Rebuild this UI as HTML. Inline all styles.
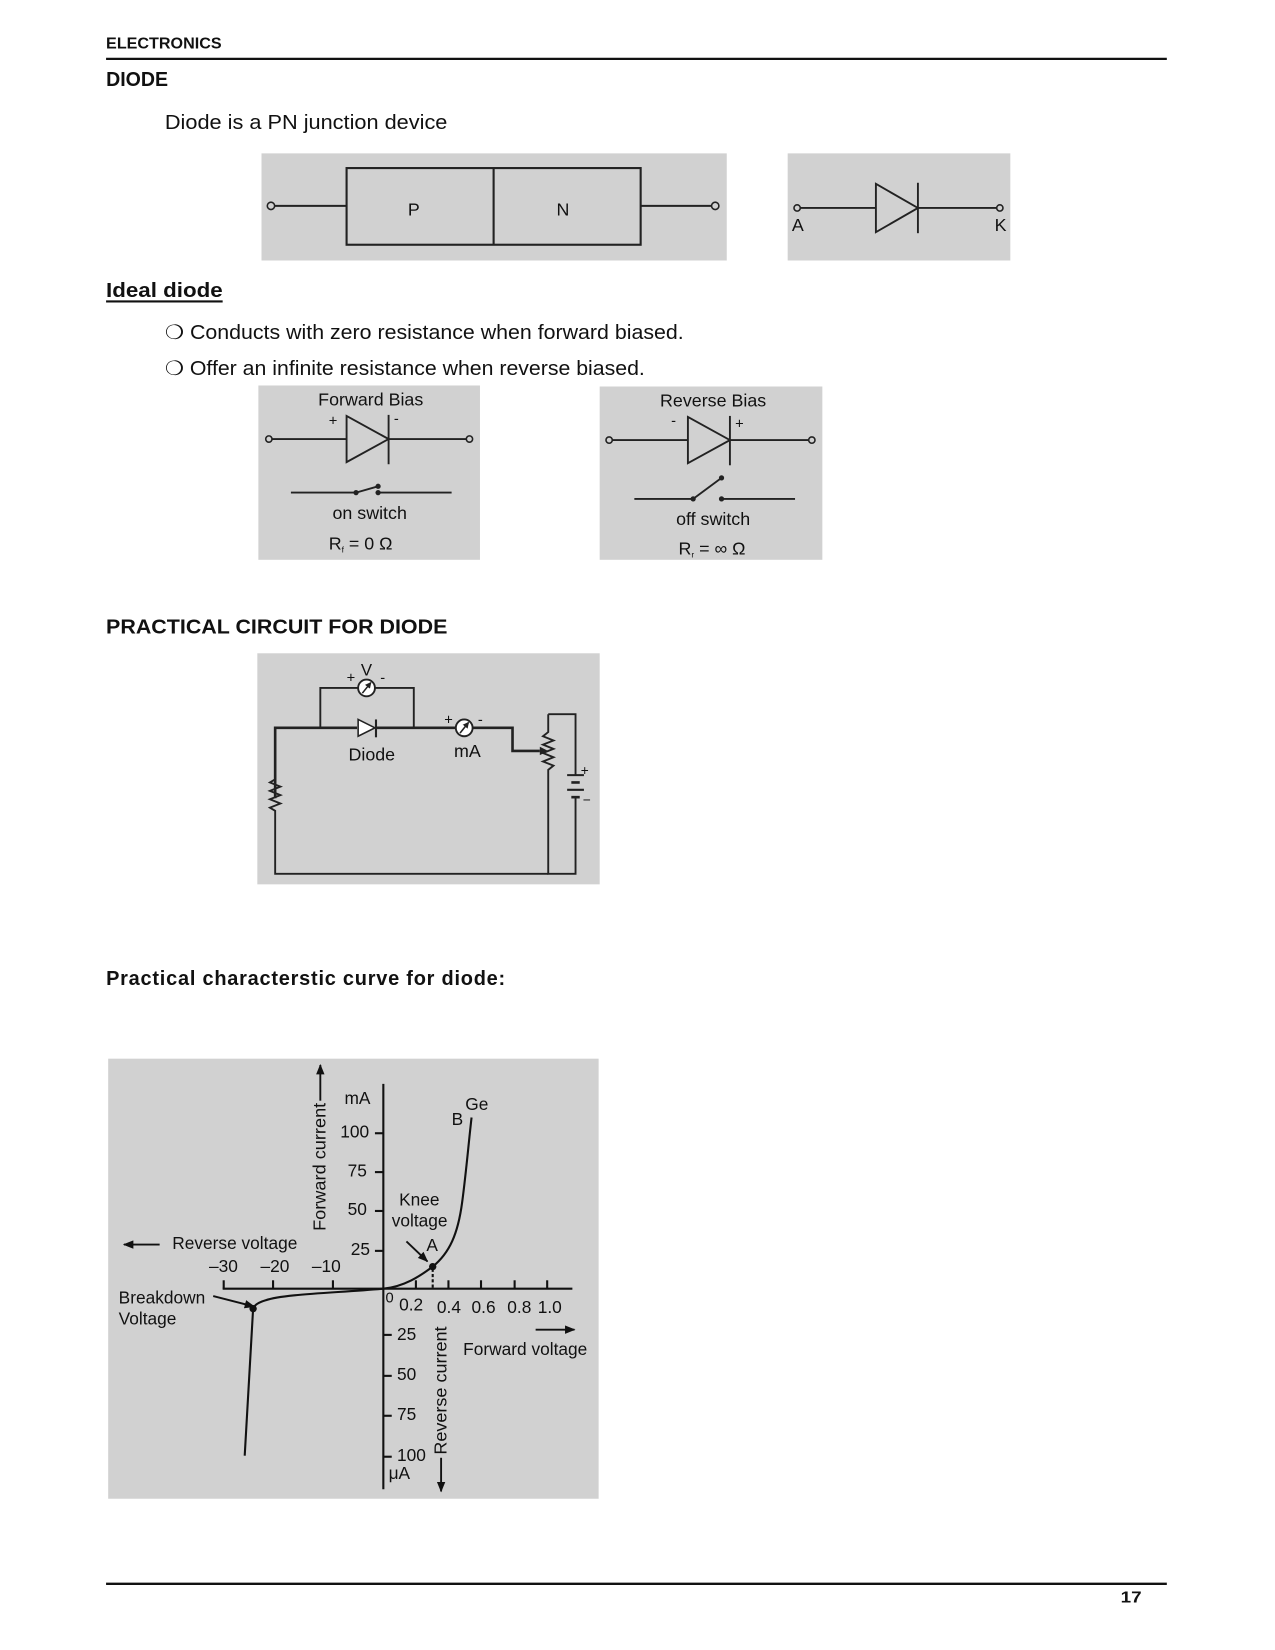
<!DOCTYPE html>
<html><head><meta charset="utf-8"><style>
html,body{margin:0;padding:0;background:#fff;}
svg{display:block;}
text{font-family:"Liberation Sans",Arial,sans-serif;fill:#111;}
</style></head><body>
<svg width="1275" height="1650" viewBox="0 0 1214 1571" xmlns="http://www.w3.org/2000/svg">
<defs>
<marker id="ah" markerWidth="10" markerHeight="8" refX="9" refY="4" orient="auto" markerUnits="userSpaceOnUse"><path d="M0,0 L10,4 L0,8 z" fill="#111"/></marker>
<marker id="sh" markerWidth="6" markerHeight="6" refX="5" refY="3" orient="auto" markerUnits="userSpaceOnUse"><path d="M0,0 L6,3 L0,6 z" fill="#222"/></marker>
</defs>
<!-- header -->
<text x="101" y="46" font-size="15" font-weight="bold" textLength="110" lengthAdjust="spacingAndGlyphs">ELECTRONICS</text>
<line x1="101" y1="56" x2="1111" y2="56" stroke="#111" stroke-width="2.2"/>
<text x="101" y="82" font-size="19" font-weight="bold" textLength="59" lengthAdjust="spacingAndGlyphs">DIODE</text>
<text x="157" y="123" font-size="19" textLength="269" lengthAdjust="spacingAndGlyphs">Diode is a PN junction device</text>

<!-- PN block -->
<rect x="249" y="146" width="443" height="102" fill="#d1d1d1"/>
<rect x="330" y="160" width="280" height="73" fill="none" stroke="#222" stroke-width="2"/>
<line x1="470" y1="160" x2="470" y2="233" stroke="#222" stroke-width="2"/>
<line x1="261" y1="196" x2="330" y2="196" stroke="#222" stroke-width="2"/>
<line x1="610" y1="196" x2="678" y2="196" stroke="#222" stroke-width="2"/>
<circle cx="258" cy="196" r="3.5" fill="#d1d1d1" stroke="#222" stroke-width="1.5"/>
<circle cx="681" cy="196" r="3.5" fill="#d1d1d1" stroke="#222" stroke-width="1.5"/>
<text x="394" y="205" font-size="17" text-anchor="middle">P</text>
<text x="536" y="205" font-size="17" text-anchor="middle">N</text>

<!-- diode symbol -->
<rect x="750" y="146" width="212" height="102" fill="#d1d1d1"/>
<line x1="762" y1="198" x2="834" y2="198" stroke="#222" stroke-width="1.8"/>
<line x1="874" y1="198" x2="949" y2="198" stroke="#222" stroke-width="1.8"/>
<path d="M834,175 L874,198 L834,221 z" fill="none" stroke="#222" stroke-width="1.8"/>
<line x1="874" y1="174" x2="874" y2="222" stroke="#222" stroke-width="1.8"/>
<circle cx="759" cy="198" r="3" fill="#d1d1d1" stroke="#222" stroke-width="1.5"/>
<circle cx="952" cy="198" r="3" fill="#d1d1d1" stroke="#222" stroke-width="1.5"/>
<text x="754" y="220" font-size="17">A</text>
<text x="947" y="220" font-size="17">K</text>

<!-- ideal diode -->
<text x="101" y="283" font-size="19" font-weight="bold" textLength="111" lengthAdjust="spacingAndGlyphs">Ideal  diode</text>
<line x1="101" y1="287" x2="212" y2="287" stroke="#111" stroke-width="2"/>
<text x="157" y="323" font-size="19" textLength="494" lengthAdjust="spacingAndGlyphs">❍ Conducts with zero resistance when forward biased.</text>
<text x="157" y="357" font-size="19" textLength="457" lengthAdjust="spacingAndGlyphs">❍ Offer an infinite resistance when reverse biased.</text>

<!-- forward bias -->
<rect x="246" y="367" width="211" height="166" fill="#d1d1d1"/>
<text x="353" y="386" font-size="17" text-anchor="middle">Forward Bias</text>
<text x="313" y="405" font-size="14">+</text>
<text x="375" y="403" font-size="14">-</text>
<line x1="259" y1="418" x2="330" y2="418" stroke="#222" stroke-width="1.8"/>
<line x1="370" y1="418" x2="444" y2="418" stroke="#222" stroke-width="1.8"/>
<path d="M330,396 L370,418 L330,440 z" fill="none" stroke="#222" stroke-width="1.8"/>
<line x1="370" y1="395" x2="370" y2="442" stroke="#222" stroke-width="1.8"/>
<circle cx="256" cy="418" r="3" fill="#d1d1d1" stroke="#222" stroke-width="1.5"/>
<circle cx="447" cy="418" r="3" fill="#d1d1d1" stroke="#222" stroke-width="1.5"/>
<line x1="277" y1="469" x2="339" y2="469" stroke="#222" stroke-width="1.8"/>
<line x1="339" y1="469" x2="360" y2="463" stroke="#222" stroke-width="1.8"/>
<line x1="360" y1="469" x2="430" y2="469" stroke="#222" stroke-width="1.8"/>
<circle cx="339" cy="469" r="2.5" fill="#222"/><circle cx="360" cy="463" r="2.5" fill="#222"/><circle cx="360" cy="469" r="2.5" fill="#222"/>
<text x="352" y="494" font-size="17" text-anchor="middle">on switch</text>
<text x="313" y="523" font-size="17">R<tspan font-size="8" dy="3">f</tspan><tspan dy="-3"> = 0 Ω</tspan></text>

<!-- reverse bias -->
<rect x="571" y="368" width="212" height="165" fill="#d1d1d1"/>
<text x="679" y="387" font-size="17" text-anchor="middle">Reverse Bias</text>
<text x="639" y="405" font-size="14">-</text>
<text x="700" y="408" font-size="14">+</text>
<line x1="583" y1="419" x2="655" y2="419" stroke="#222" stroke-width="1.8"/>
<line x1="695" y1="419" x2="770" y2="419" stroke="#222" stroke-width="1.8"/>
<path d="M655,397 L695,419 L655,441 z" fill="none" stroke="#222" stroke-width="1.8"/>
<line x1="695" y1="396" x2="695" y2="443" stroke="#222" stroke-width="1.8"/>
<circle cx="580" cy="419" r="3" fill="#d1d1d1" stroke="#222" stroke-width="1.5"/>
<circle cx="773" cy="419" r="3" fill="#d1d1d1" stroke="#222" stroke-width="1.5"/>
<line x1="604" y1="475" x2="660" y2="475" stroke="#222" stroke-width="1.8"/>
<line x1="660" y1="475" x2="687" y2="455" stroke="#222" stroke-width="1.8"/>
<line x1="687" y1="475" x2="757" y2="475" stroke="#222" stroke-width="1.8"/>
<circle cx="660" cy="475" r="2.5" fill="#222"/><circle cx="687" cy="455" r="2.5" fill="#222"/><circle cx="687" cy="475" r="2.5" fill="#222"/>
<text x="679" y="500" font-size="17" text-anchor="middle">off switch</text>
<text x="646" y="528" font-size="17">R<tspan font-size="8" dy="3">r</tspan><tspan dy="-3"> =  ∞ Ω</tspan></text>

<!-- practical circuit -->
<text x="101" y="603" font-size="19" font-weight="bold" textLength="325" lengthAdjust="spacingAndGlyphs">PRACTICAL CIRCUIT  FOR DIODE</text>
<rect x="245" y="622" width="326" height="220" fill="#d1d1d1"/>
<g stroke="#222" fill="none">
<polyline points="262,760 262,693 340,693" stroke-width="2.5"/>
<polyline points="358,693 434,693" stroke-width="2.5"/>
<polyline points="450,693 488,693 488,715 514,715" stroke-width="2.5"/>
<polyline points="305,693 305,655 341,655" stroke-width="1.8"/>
<polyline points="357,655 394,655 394,693" stroke-width="1.8"/>
<polyline points="262,738 262,742 257,745 267,749 257,753 267,757 257,761 267,765 257,769 262,772 262,832 522,832" stroke-width="1.8"/>
<polyline points="522,680 522,697 517,701 527,705 517,709 527,713 517,717 527,721 517,725 527,729 522,733 522,832 548,832 548,760" stroke-width="1.8"/>
<polyline points="522,680 548,680 548,738" stroke-width="1.8"/>
<line x1="540" y1="738" x2="556" y2="738" stroke-width="2"/>
<line x1="544" y1="745" x2="552" y2="745" stroke-width="2.5"/>
<line x1="540" y1="752" x2="556" y2="752" stroke-width="2"/>
<line x1="544" y1="759" x2="552" y2="759" stroke-width="2.5"/>
<circle cx="349" cy="655" r="8" fill="#fff" stroke-width="1.8"/>
<circle cx="442" cy="693" r="8" fill="#fff" stroke-width="1.8"/>
<line x1="345" y1="660" x2="353" y2="650" stroke-width="1.5" marker-end="url(#sh)"/>
<line x1="438" y1="698" x2="446" y2="688" stroke-width="1.5" marker-end="url(#sh)"/>
<line x1="358" y1="685" x2="358" y2="702" stroke-width="2"/>
</g>
<path d="M514,711 L522,715 L514,719 z" fill="#222"/>
<path d="M341,685 L357,693 L341,701 z" fill="#fff" stroke="#222" stroke-width="1.5"/>
<text x="349" y="643" font-size="16" text-anchor="middle">V</text>
<text x="330" y="650" font-size="14">+</text>
<text x="362" y="650" font-size="14">-</text>
<text x="423" y="690" font-size="14">+</text>
<text x="455" y="690" font-size="14">-</text>
<text x="354" y="724" font-size="17" text-anchor="middle">Diode</text>
<text x="445" y="721" font-size="17" text-anchor="middle">mA</text>
<text x="553" y="738" font-size="13">+</text>
<text x="555" y="766" font-size="13">−</text>

<!-- characteristic -->
<text x="101" y="938" font-size="19" font-weight="bold" textLength="380" lengthAdjust="spacing">Practical characterstic curve for diode:</text>
<rect x="103" y="1008" width="467" height="419" fill="#d1d1d1"/>
<g stroke="#111" stroke-width="2" fill="none">
<line x1="365" y1="1032" x2="365" y2="1418"/>
<line x1="212" y1="1227" x2="545" y2="1227"/>
<line x1="357" y1="1079" x2="365" y2="1079"/>
<line x1="357" y1="1116" x2="365" y2="1116"/>
<line x1="357" y1="1153" x2="365" y2="1153"/>
<line x1="357" y1="1191" x2="365" y2="1191"/>
<line x1="365" y1="1271" x2="373" y2="1271"/>
<line x1="365" y1="1310" x2="373" y2="1310"/>
<line x1="365" y1="1348" x2="373" y2="1348"/>
<line x1="365" y1="1387" x2="373" y2="1387"/>
<line x1="396" y1="1219" x2="396" y2="1227"/>
<line x1="427" y1="1219" x2="427" y2="1227"/>
<line x1="458" y1="1219" x2="458" y2="1227"/>
<line x1="490" y1="1219" x2="490" y2="1227"/>
<line x1="521" y1="1219" x2="521" y2="1227"/>
<line x1="213" y1="1227" x2="213" y2="1219"/>
<line x1="260" y1="1227" x2="260" y2="1219"/>
<line x1="317" y1="1227" x2="317" y2="1219"/>
<path d="M365,1227 C385,1225 400,1215 412,1206 C428,1193 436,1175 440,1145 C444,1115 446,1090 449,1064"/>
<path d="M365,1227 C320,1231 270,1232 253,1238 C246,1240 242,1243 241,1246 L233,1386"/>
<line x1="412" y1="1208" x2="412" y2="1227" stroke-dasharray="3,2"/>
<line x1="305" y1="1048" x2="305" y2="1014" stroke-width="1.8" marker-end="url(#ah)"/>
<line x1="420" y1="1388" x2="420" y2="1420" stroke-width="1.8" marker-end="url(#ah)"/>
<line x1="152" y1="1185" x2="118" y2="1185" stroke-width="1.8" marker-end="url(#ah)"/>
<line x1="510" y1="1266" x2="547" y2="1266" stroke-width="1.8" marker-end="url(#ah)"/>
<line x1="387" y1="1182" x2="407" y2="1201" stroke-width="1.8" marker-end="url(#ah)"/>
<line x1="203" y1="1234" x2="242" y2="1244" stroke-width="1.8" marker-end="url(#ah)"/>
</g>
<circle cx="412" cy="1206" r="3.5" fill="#111"/>
<circle cx="241" cy="1246" r="3.5" fill="#111"/>
<g font-size="16.5">
<text x="328" y="1051">mA</text>
<text x="324" y="1083">100</text>
<text x="331" y="1120">75</text>
<text x="331" y="1157">50</text>
<text x="334" y="1195">25</text>
<text x="378" y="1276">25</text>
<text x="378" y="1314">50</text>
<text x="378" y="1352">75</text>
<text x="378" y="1391">100</text>
<text x="370" y="1408">μA</text>
<text x="367" y="1240" font-size="14">0</text>
<text x="380" y="1248">0.2</text>
<text x="416" y="1250">0.4</text>
<text x="449" y="1250">0.6</text>
<text x="483" y="1250">0.8</text>
<text x="512" y="1250">1.0</text>
<text x="199" y="1211">–30</text>
<text x="248" y="1211">–20</text>
<text x="297" y="1211">–10</text>
<text x="164" y="1189">Reverse voltage</text>
<text x="441" y="1290">Forward voltage</text>
<text x="113" y="1241">Breakdown</text>
<text x="113" y="1261">Voltage</text>
<text x="380" y="1148">Knee</text>
<text x="373" y="1168">voltage</text>
<text x="406" y="1191">A</text>
<text x="430" y="1071">B</text>
<text x="443" y="1057">Ge</text>
<text transform="translate(310,1172) rotate(-90)" textLength="122" lengthAdjust="spacingAndGlyphs">Forward current</text>
<text transform="translate(425,1385) rotate(-90)" textLength="122" lengthAdjust="spacingAndGlyphs">Reverse current</text>
</g>

<!-- footer -->
<line x1="101" y1="1508" x2="1111" y2="1508" stroke="#111" stroke-width="2.2"/>
<text x="1067" y="1526" font-size="15" font-weight="bold" textLength="20" lengthAdjust="spacingAndGlyphs">17</text>
</svg>
</body></html>
